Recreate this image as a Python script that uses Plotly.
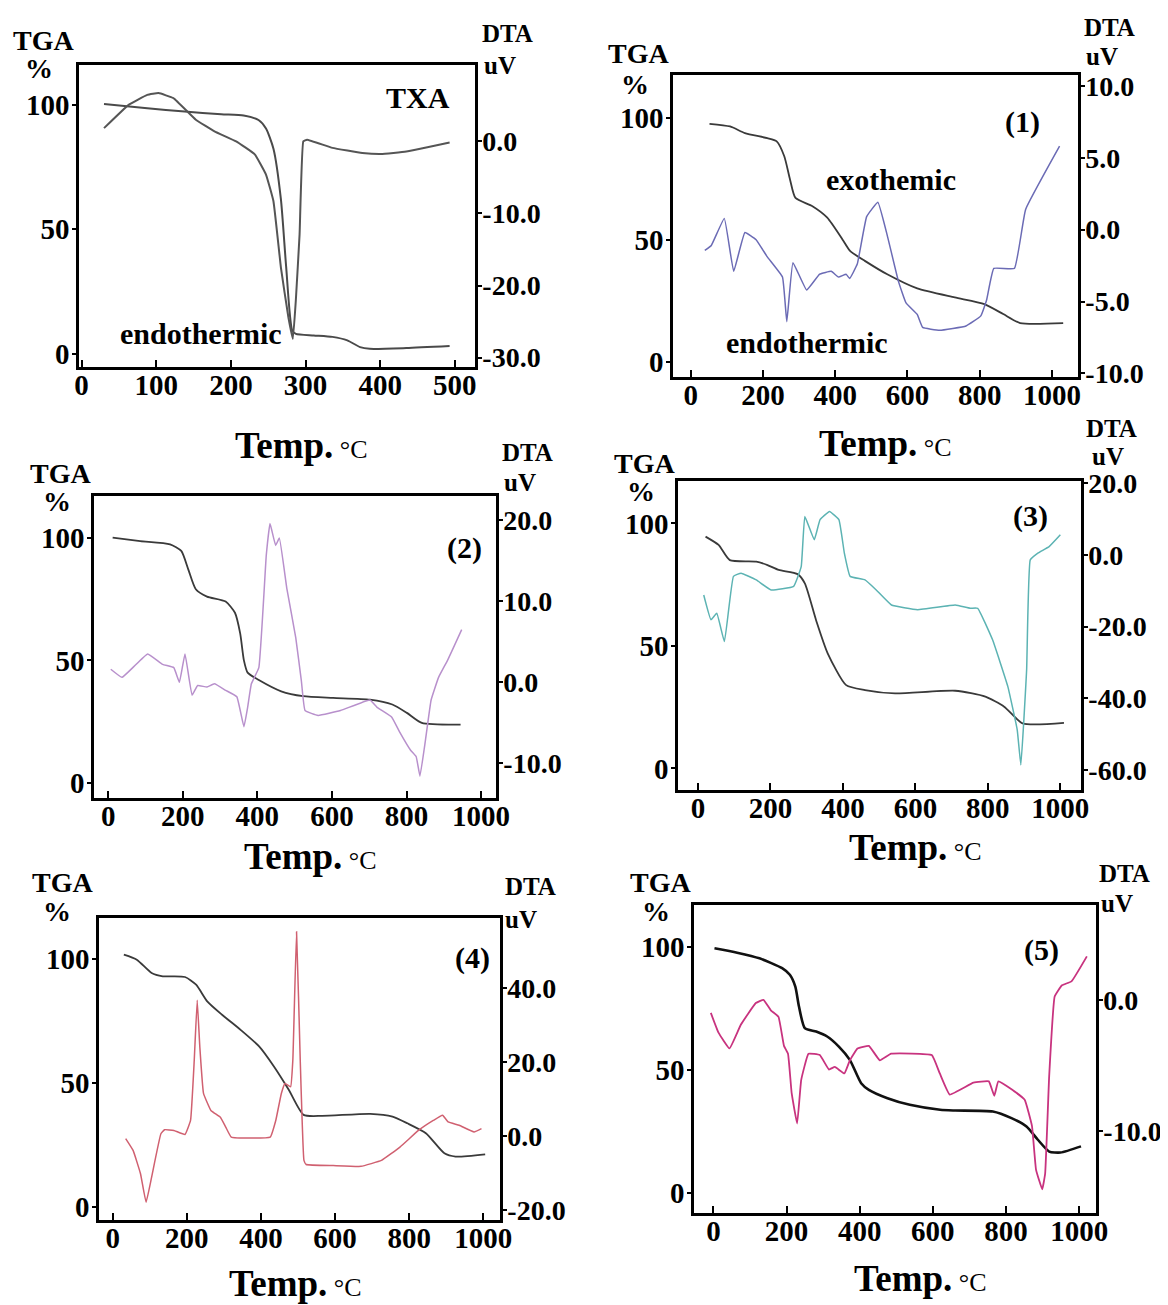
import plotly.graph_objects as go

W, H = 1168, 1305
PAGE_OFF = 8           # browser body margin; the figure is placed 8px from the top-left
FW, FH = W - PAGE_OFF, H - PAGE_OFF

# ---------------- data ----------------
# TXA
txa_temp_tga = [30, 88, 138, 187, 217, 237, 247, 257, 267, 274, 282, 287, 311, 336, 356, 373, 386, 435, 493]
txa_tga = [100.3, 98.6, 97.3, 96.2, 95.7, 93.9, 90.5, 82.4, 62, 35, 9.5, 8, 7.4, 6.8, 5.4, 2.7, 2.0, 2.3, 3.1]
txa_temp_dta = [30, 63, 88, 103, 123, 153, 178, 207, 232, 247, 257, 267, 277, 283, 287, 292, 297, 302, 336, 376, 401, 435, 493]
txa_dta = [1.84, 5.07, 6.45, 6.7, 6.0, 3.0, 1.4, 0, -1.8, -4.6, -8.3, -17.5, -24.4, -27.4, -22, -12.9, 0, 0.23, -0.9, -1.6, -1.75, -1.4, -0.14]

# complex (1)
c1_temp_tga = [52, 109, 150, 212, 238, 259, 275, 290, 337, 378, 420, 441, 482, 544, 627, 731, 813, 865, 912, 1031]
c1_tga = [97.7, 96.6, 93.9, 91.8, 90.5, 84.4, 74.8, 67.3, 63.9, 59.2, 50.3, 45.6, 41.5, 36.0, 30.2, 26.5, 23.8, 19.7, 16.0, 16.0]
c1_temp_dta = [39, 57, 93, 119, 150, 181, 212, 254, 266, 283, 321, 357, 389, 409, 430, 440, 461, 487, 518, 544, 575, 596, 627, 642, 689, 762, 803, 819, 839, 896, 927, 1021]
c1_dta = [-1.44, -1.1, 0.78, -2.9, -0.2, -0.7, -1.9, -3.3, -6.4, -2.3, -4.2, -3.1, -2.9, -3.3, -3.1, -3.4, -2.4, 0.9, 1.9, -0.4, -3.6, -5.1, -5.9, -6.8, -7.0, -6.7, -6.0, -4.9, -2.7, -2.7, 1.4, 5.8]

# complex (2)
c2_temp_tga = [12, 86, 166, 196, 215, 235, 265, 315, 340, 354, 364, 374, 404, 464, 523, 603, 702, 762, 801, 841, 945]
c2_tga = [100, 98.6, 97.3, 94.6, 87, 79, 76, 74, 69.4, 61, 50, 45, 42, 37.4, 35.4, 34.7, 34, 32, 28.6, 24.5, 23.8]
c2_temp_dta = [7, 37, 66, 106, 146, 176, 191, 206, 225, 240, 265, 285, 315, 345, 364, 374, 384, 404, 424, 434, 449, 459, 479, 503, 518, 528, 563, 623, 702, 721, 760, 781, 811, 826, 836, 851, 866, 886, 910, 948]
c2_dta = [1.6, 0.6, 1.8, 3.5, 2.2, 1.8, 0, 3.5, -1.6, -0.4, -0.6, -0.2, -1.0, -1.8, -5.5, -3.1, -0.2, 1.8, 15.7, 19.6, 16.9, 17.8, 11.6, 5.5, 0.2, -3.5, -4.1, -3.5, -2.2, -3.1, -4.3, -6.1, -8.4, -9.2, -11.6, -7.1, -2.2, 0.6, 2.7, 6.5]

# complex (3)
c3_temp_tga = [21, 57, 88, 161, 192, 223, 275, 295, 326, 358, 409, 461, 544, 710, 793, 845, 896, 1010]
c3_tga = [94.6, 91.2, 85, 84.4, 83, 81, 79.3, 75.5, 60.5, 47, 34, 32, 30.6, 31.7, 29.3, 25.2, 18.4, 18.6]
c3_temp_dta = [16, 36, 52, 73, 98, 119, 161, 202, 264, 285, 295, 321, 337, 363, 389, 404, 420, 461, 492, 534, 606, 710, 751, 772, 813, 855, 881, 891, 907, 917, 938, 969, 1000]
c3_dta = [-11.2, -18.1, -16.3, -24.2, -6.0, -5.1, -7.0, -9.8, -8.8, -3.3, 10.7, 4.2, 9.8, 12.1, 9.8, 0.5, -6.0, -7.0, -9.8, -14.0, -15.3, -14.0, -14.9, -14.9, -23.7, -36.7, -48.8, -58.6, -32.0, -1.4, 0.5, 2.3, 5.6]

# complex (4)
c4_temp_tga = [30, 65, 105, 135, 195, 225, 255, 295, 345, 395, 435, 475, 515, 565, 695, 755, 795, 845, 895, 925, 1005]
c4_tga = [101.6, 99.6, 94.2, 92.9, 92.6, 89.5, 82.8, 77.4, 71.3, 64.6, 56.5, 47.1, 37, 36.6, 37.4, 36.3, 33.6, 29.6, 21.5, 20.2, 21.1]
c4_temp_dta = [35, 55, 75, 90, 105, 130, 140, 165, 195, 210, 220, 228, 235, 245, 265, 290, 305, 320, 425, 440, 455, 465, 480, 486, 496, 506, 516, 522, 595, 670, 725, 775, 825, 865, 890, 905, 935, 975, 995]
c4_dta = [-0.6, -3.8, -10.1, -17.8, -11.0, 0.7, 1.8, 1.6, 0.5, 4.3, 20.6, 36.8, 24.2, 11.6, 7.0, 5.2, 2.5, -0.2, -0.2, 4.3, 11.6, 14.3, 13.4, 20.6, 55.3, 20.6, -6.5, -7.6, -7.9, -8.1, -6.5, -2.9, 1.6, 4.3, 5.7, 3.9, 3.0, 1.2, 2.1]

# complex (5)
c5_temp_tga = [3, 65, 126, 188, 209, 224, 234, 250, 281, 311, 343, 373, 404, 425, 476, 537, 620, 661, 764, 815, 856, 887, 918, 949, 1005]
c5_tga = [99.6, 97.8, 95.5, 91.5, 88.8, 84, 75.9, 67.1, 65.7, 63.7, 59.6, 54.2, 44.7, 42, 38.6, 35.9, 33.9, 33.6, 33.2, 30.5, 27.1, 21.7, 16.9, 16.5, 19]
c5_temp_dta = [-7, 14, 44, 75, 116, 137, 157, 178, 193, 204, 214, 229, 240, 260, 291, 316, 332, 358, 373, 394, 425, 455, 486, 597, 619, 646, 711, 753, 768, 779, 815, 851, 871, 882, 899, 907, 918, 933, 953, 979, 1021]
c5_dta = [-1.0, -2.5, -3.7, -1.9, -0.25, 0, -0.8, -1.3, -3.5, -4.1, -7.1, -9.4, -6.1, -4.1, -4.2, -5.3, -5.1, -5.6, -4.6, -3.7, -3.5, -4.6, -4.1, -4.2, -5.6, -7.2, -6.3, -6.2, -7.3, -6.2, -6.8, -7.6, -9.6, -12.9, -14.4, -13.2, -5.8, 0.25, 1.1, 1.4, 3.3]

tga_ticks = [0, 50, 100]
x_ticks_500 = [0, 100, 200, 300, 400, 500]
x_ticks_1000 = [0, 200, 400, 600, 800, 1000]

# ---------------- panel layout (pixel boxes in the window) ----------------
panels = [
    dict(box=(79, 475, 65, 367), xr=[-3.5, 527], yr=[-5.3, 116], dr=[-31.3, 10.6],
         xt=x_ticks_500, dt=[-30, -20, -10, 0],
         tx=txa_temp_tga, ty=txa_tga, dx=txa_temp_dta, dy=txa_dta,
         tcol="#4a4a4a", dcol="#555555", twid=2, dwid=2,
         tga=(43, 40), pct=(39, 68), dta=(480, 34), uv=(482, 65), temp=(301, 445),
         notes=[("TXA", 450, 103), ("endothermic", 160, 8)]),
    dict(box=(673, 1078, 75, 377), xr=[-49, 1072], yr=[-6.1, 117.7], dr=[-10.25, 10.75],
         xt=x_ticks_1000, dt=[-10, -5, 0, 5, 10],
         tx=c1_temp_tga, ty=c1_tga, dx=c1_temp_dta, dy=c1_dta,
         tcol="#3a3a3a", dcol="#6b6bb5", twid=1.8, dwid=1.5,
         tga=(638, 53), pct=(635, 85), dta=(1082, 27), uv=(1084, 56), temp=(885, 443),
         notes=[("(1)", 917, 98.6), ("exothemic", 554, 74.8), ("endothermic", 321, 8.2)]),
    dict(box=(94, 496, 496, 798), xr=[-38, 1040], yr=[-6.1, 117], dr=[-14.3, 23],
         xt=x_ticks_1000, dt=[-10, 0, 10, 20],
         tx=c2_temp_tga, ty=c2_tga, dx=c2_temp_dta, dy=c2_dta,
         tcol="#3a3a3a", dcol="#b890cc", twid=1.8, dwid=1.5,
         tga=(60, 473), pct=(57, 501), dta=(500, 453), uv=(502, 483), temp=(310, 857),
         notes=[("(2)", 955, 96)]),
    dict(box=(678, 1081, 481, 790), xr=[-55, 1057], yr=[-8.8, 117.3], dr=[-65.6, 20.6],
         xt=x_ticks_1000, dt=[-60, -40, -20, 0, 20],
         tx=c3_temp_tga, ty=c3_tga, dx=c3_temp_dta, dy=c3_dta,
         tcol="#3a3a3a", dcol="#5cb3b3", twid=1.8, dwid=1.5,
         tga=(644, 463), pct=(641, 491), dta=(1084, 429), uv=(1090, 456), temp=(915, 847),
         notes=[("(3)", 917, 103)]),
    dict(box=(99, 500, 918, 1220), xr=[-37, 1045], yr=[-5.4, 116.4], dr=[-22.6, 59],
         xt=x_ticks_1000, dt=[-20, 0, 20, 40],
         tx=c4_temp_tga, ty=c4_tga, dx=c4_temp_dta, dy=c4_dta,
         tcol="#3a3a3a", dcol="#d06070", twid=1.8, dwid=1.5,
         tga=(62, 883), pct=(57, 911), dta=(503, 886), uv=(503, 920), temp=(295, 1283),
         notes=[("(4)", 970, 100.3)]),
    dict(box=(694, 1096, 905, 1213), xr=[-53, 1046], yr=[-8.1, 117.2], dr=[-16.2, 7.2],
         xt=x_ticks_1000, dt=[-10, 0],
         tx=c5_temp_tga, ty=c5_tga, dx=c5_temp_dta, dy=c5_dta,
         tcol="#111111", dcol="#c8337f", twid=2.6, dwid=1.8,
         tga=(660, 883), pct=(656, 911), dta=(1097, 873), uv=(1099, 903), temp=(920, 1278),
         notes=[("(5)", 897, 99)]),
]

FONT = "Liberation Serif"


def fx(px):
    return (px - PAGE_OFF) / FW


def fy(py):
    return 1 - (py - PAGE_OFF) / FH


fig = go.Figure()
layout = dict(width=FW, height=FH, margin=dict(l=0, r=0, t=0, b=0, autoexpand=False),
              paper_bgcolor="white", plot_bgcolor="white", showlegend=False)
annotations = []

for i, p in enumerate(panels, start=1):
    xl, xr_, yt, yb = p["box"]
    xa = f"xaxis{i}" if i > 1 else "xaxis"
    ya = f"yaxis{i}" if i > 1 else "yaxis"
    ya2 = f"yaxis{i + 6}"
    xref = f"x{i}" if i > 1 else "x"
    yref = f"y{i}" if i > 1 else "y"
    yref2 = f"y{i + 6}"

    tickfont = dict(family=FONT, size=29, color="black", weight="bold")
    layout[xa] = dict(domain=[fx(xl), fx(xr_)], range=p["xr"], anchor=yref, automargin=False,
                      showline=True, linecolor="black", linewidth=2.5, mirror=True,
                      showgrid=False, zeroline=False, ticks="inside", ticklen=7,
                      tickwidth=2, tickcolor="black", tickvals=p["xt"],
                      tickfont=tickfont, ticklabelstandoff=-10)
    layout[ya] = dict(domain=[fy(yb), fy(yt)], range=p["yr"], anchor=xref, automargin=False,
                      showline=True, linecolor="black", linewidth=2.5,
                      showgrid=False, zeroline=False, ticks="outside", ticklen=4,
                      tickwidth=2, tickcolor="black", tickvals=tga_ticks,
                      tickfont=tickfont, ticklabelstandoff=-3)
    layout[ya2] = dict(range=p["dr"], anchor=xref, overlaying=yref, side="right", automargin=False,
                       showline=True, linecolor="black", linewidth=2.5,
                       showgrid=False, zeroline=False, ticks="outside", ticklen=4,
                       tickwidth=2, tickcolor="black", tickvals=p["dt"],
                       ticktext=[f"{v:.1f}" for v in p["dt"]],
                       tickfont=dict(family=FONT, size=28, color="black", weight="bold"),
                       ticklabelstandoff=-5)

    fig.add_trace(go.Scatter(x=p["tx"], y=p["ty"], mode="lines", xaxis=xref, yaxis=yref,
                             line=dict(color=p["tcol"], width=p["twid"], shape="spline", smoothing=0.6),
                             hoverinfo="skip"))
    fig.add_trace(go.Scatter(x=p["dx"], y=p["dy"], mode="lines", xaxis=xref, yaxis=yref2,
                             line=dict(color=p["dcol"], width=p["dwid"], shape="spline", smoothing=0.3),
                             hoverinfo="skip"))

    def lab(text, pos, anchor="center", size=28):
        annotations.append(dict(text=f"<b>{text}</b>", x=fx(pos[0]), y=fy(pos[1]),
                                xref="paper", yref="paper", showarrow=False,
                                xanchor=anchor, yanchor="middle",
                                font=dict(family=FONT, size=size, color="black")))

    lab("TGA", p["tga"])
    lab("%", p["pct"])
    lab("DTA", p["dta"], anchor="left", size=25)
    lab("uV", p["uv"], anchor="left", size=25)
    annotations.append(dict(text="<b>Temp.</b><span style='font-size:26px'> °C</span>",
                            x=fx(p["temp"][0]), y=fy(p["temp"][1]), xref="paper", yref="paper",
                            showarrow=False, xanchor="center", yanchor="middle",
                            font=dict(family=FONT, size=37, color="black")))
    for text, xv, yv in p["notes"]:
        annotations.append(dict(text=f"<b>{text}</b>", x=xv, y=yv, xref=xref, yref=yref,
                                showarrow=False, xanchor="center", yanchor="middle",
                                font=dict(family=FONT, size=30, color="black")))

layout["annotations"] = annotations
fig.update_layout(**layout)
fig.write_html("out.html")
